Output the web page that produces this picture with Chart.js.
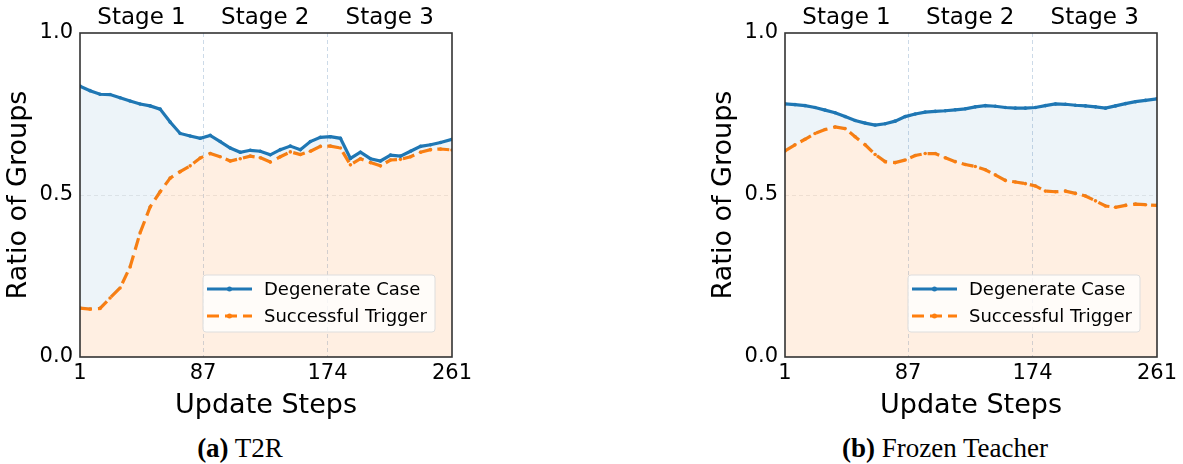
<!DOCTYPE html>
<html>
<head>
<meta charset="utf-8">
<script src="https://cdn.jsdelivr.net/npm/chart.js@4"></script>
<style>
  body { margin: 0; background: #fff; width: 1183px; height: 464px; position: relative; overflow: hidden; }
  .panel { position: absolute; top: 0; width: 478px; height: 425px; }
  .caption { position: absolute; top: 433px; width: 400px; text-align: center; line-height: 30px;
             font-family: "Liberation Serif", "Times New Roman", serif; font-size: 27px; color: #000; }
</style>
</head>
<body>
<div class="panel" style="left:0px"><canvas id="chartA"></canvas></div>
<div class="panel" style="left:705px"><canvas id="chartB"></canvas></div>
<div class="caption" style="left:40px"><b>(a)</b> T2R</div>
<div class="caption" style="left:745px"><b>(b)</b> Frozen Teacher</div>
<script>
const steps = [1, 8, 15, 22, 29, 36, 43, 50, 57, 64, 71, 78, 85, 92, 99, 106, 113, 120, 127,
  134, 141, 148, 155, 162, 169, 176, 183, 190, 197, 204, 211, 218, 225, 232, 239, 246, 253, 261];

// (a) T2R
const t2rDegenerate = [0.836, 0.822, 0.811, 0.810, 0.800, 0.790, 0.781, 0.775, 0.765, 0.725, 0.690,
  0.682, 0.675, 0.684, 0.665, 0.645, 0.632, 0.638, 0.635, 0.624, 0.640, 0.651, 0.640, 0.665, 0.678,
  0.680, 0.675, 0.613, 0.632, 0.612, 0.605, 0.623, 0.620, 0.635, 0.650, 0.655, 0.662, 0.672];
const t2rTrigger = [0.151, 0.148, 0.150, 0.182, 0.213, 0.278, 0.383, 0.463, 0.510, 0.552, 0.572,
  0.590, 0.614, 0.628, 0.618, 0.605, 0.612, 0.620, 0.615, 0.602, 0.618, 0.633, 0.625, 0.635, 0.650,
  0.651, 0.645, 0.593, 0.612, 0.600, 0.590, 0.608, 0.610, 0.618, 0.632, 0.640, 0.642, 0.639];

// (b) Frozen Teacher
const frozenDegenerate = [0.781, 0.779, 0.776, 0.770, 0.762, 0.754, 0.742, 0.730, 0.722, 0.716, 0.720,
  0.728, 0.742, 0.750, 0.756, 0.758, 0.760, 0.763, 0.766, 0.772, 0.776, 0.774, 0.770, 0.768, 0.768,
  0.770, 0.776, 0.781, 0.780, 0.777, 0.775, 0.772, 0.768, 0.775, 0.782, 0.788, 0.792, 0.797];
const frozenTrigger = [0.636, 0.655, 0.672, 0.690, 0.702, 0.710, 0.705, 0.680, 0.655, 0.625, 0.603,
  0.600, 0.608, 0.622, 0.628, 0.628, 0.615, 0.603, 0.594, 0.588, 0.578, 0.562, 0.545, 0.540, 0.535,
  0.528, 0.512, 0.510, 0.512, 0.505, 0.497, 0.482, 0.466, 0.462, 0.468, 0.472, 0.470, 0.468];

const xTicks = [1, 87, 174, 261];
const yTicks = [0, 0.5, 1.0];
const stageBounds = [1, 87, 174, 261];
const stageNames = ['Stage 1', 'Stage 2', 'Stage 3'];
const seriesNames = ['Degenerate Case', 'Successful Trigger'];

const BLUE = '#1f77b4';
const ORANGE = '#ff7f0e';
const FONT = '"DejaVu Sans", sans-serif';

// stage labels, axes frame and in-plot legend
const overlayPlugin = {
  id: 'overlay',
  afterDatasetsDraw(chart) {
    const { ctx, chartArea: a, scales: { x } } = chart;
    ctx.save();
    ctx.fillStyle = '#000';
    ctx.font = '23px ' + FONT;
    ctx.textAlign = 'center';
    ctx.textBaseline = 'alphabetic';
    stageNames.forEach((name, i) => {
      const mid = (stageBounds[i] + stageBounds[i + 1]) / 2;
      ctx.fillText(name, x.getPixelForValue(mid), a.top - 9);
    });

    ctx.strokeStyle = '#333';
    ctx.lineWidth = 1.6;
    ctx.strokeRect(a.left, a.top, a.width, a.height);

    // legend, lower right
    ctx.font = '18px ' + FONT;
    const textW = Math.max(...chart.data.datasets.map(d => ctx.measureText(d.label).width));
    const w = 4 + 45 + 12 + textW + 8;
    const h = 57;
    const lx = a.right - 17 - w;
    const ly = a.bottom - 25 - h;
    ctx.beginPath();
    ctx.roundRect(lx, ly, w, h, 3);
    ctx.fillStyle = 'rgba(255,255,255,0.8)';
    ctx.fill();
    ctx.strokeStyle = '#dddddd';
    ctx.lineWidth = 1;
    ctx.stroke();
    chart.data.datasets.forEach((d, i) => {
      const cy = ly + 14 + i * 27;
      ctx.beginPath();
      ctx.setLineDash(d.borderDash || []);
      ctx.strokeStyle = d.borderColor;
      ctx.lineWidth = d.borderWidth;
      ctx.moveTo(lx + 4, cy);
      ctx.lineTo(lx + 49, cy);
      ctx.stroke();
      ctx.setLineDash([]);
      ctx.beginPath();
      ctx.arc(lx + 26.5, cy, 2.5, 0, Math.PI * 2);
      ctx.fillStyle = d.borderColor;
      ctx.fill();
      ctx.fillStyle = '#000';
      ctx.textAlign = 'left';
      ctx.textBaseline = 'middle';
      ctx.fillText(d.label, lx + 61, cy + 1);
    });
    ctx.restore();
  }
};

function makeChart(id, degenerate, trigger) {
  const ctx = document.getElementById(id).getContext('2d');
  return new Chart(ctx, {
    type: 'line',
    data: {
      datasets: [{
        label: seriesNames[0],
        data: steps.map((s, i) => ({ x: s, y: degenerate[i] })),
        borderColor: BLUE,
        borderWidth: 3.2,
        pointRadius: 1.8,
        pointBackgroundColor: BLUE,
        pointBorderWidth: 0,
        backgroundColor: 'rgba(31,119,180,0.08)',
        fill: { target: 1, above: 'rgba(31,119,180,0.08)', below: 'rgba(31,119,180,0.08)' },
        tension: 0
      }, {
        label: seriesNames[1],
        data: steps.map((s, i) => ({ x: s, y: trigger[i] })),
        borderColor: ORANGE,
        borderWidth: 3.2,
        borderDash: [12, 6],
        pointRadius: 1.8,
        pointBackgroundColor: ORANGE,
        pointBorderWidth: 0,
        backgroundColor: 'rgba(255,127,14,0.12)',
        fill: 'origin',
        tension: 0
      }]
    },
    options: {
      responsive: true,
      maintainAspectRatio: false,
      animation: false,
      events: [],
      layout: { padding: { top: 33, right: 26, left: 0, bottom: 0 } },
      plugins: { legend: { display: false }, tooltip: { enabled: false } },
      scales: {
        x: {
          type: 'linear',
          min: 1,
          max: 261,
          afterBuildTicks: s => { s.ticks = xTicks.map(v => ({ value: v })); },
          afterFit: s => { s.height = 68; },
          ticks: { autoSkip: false, maxRotation: 0, padding: 4, color: '#000',
                   font: { family: FONT, size: 21 } },
          grid: {
            drawTicks: false,
            color: c => (c.tick && (c.tick.value === 1 || c.tick.value === 261)) ? 'rgba(0,0,0,0)' : 'rgba(110,150,190,0.35)',
            lineWidth: 1
          },
          border: { display: false, dash: [4, 3] },
          title: { display: true, text: 'Update Steps', color: '#000',
                   font: { family: FONT, size: 27 }, padding: { top: 0, bottom: 3 } }
        },
        y: {
          min: 0,
          max: 1,
          afterBuildTicks: s => { s.ticks = yTicks.map(v => ({ value: v })); },
          afterFit: s => { s.width = 80; },
          ticks: { padding: 7, color: '#000', font: { family: FONT, size: 21 },
                   callback: v => v.toFixed(1) },
          grid: {
            drawTicks: false,
            color: c => (c.tick && c.tick.value === 0.5) ? 'rgba(0,0,0,0.08)' : 'rgba(0,0,0,0)',
            lineWidth: 1
          },
          border: { display: false, dash: [4, 3] },
          title: { display: true, text: 'Ratio of Groups', color: '#000',
                   font: { family: FONT, size: 27 }, padding: { top: 3, bottom: 0 } }
        }
      }
    },
    plugins: [overlayPlugin]
  });
}

makeChart('chartA', t2rDegenerate, t2rTrigger);
makeChart('chartB', frozenDegenerate, frozenTrigger);
</script>
</body>
</html>
